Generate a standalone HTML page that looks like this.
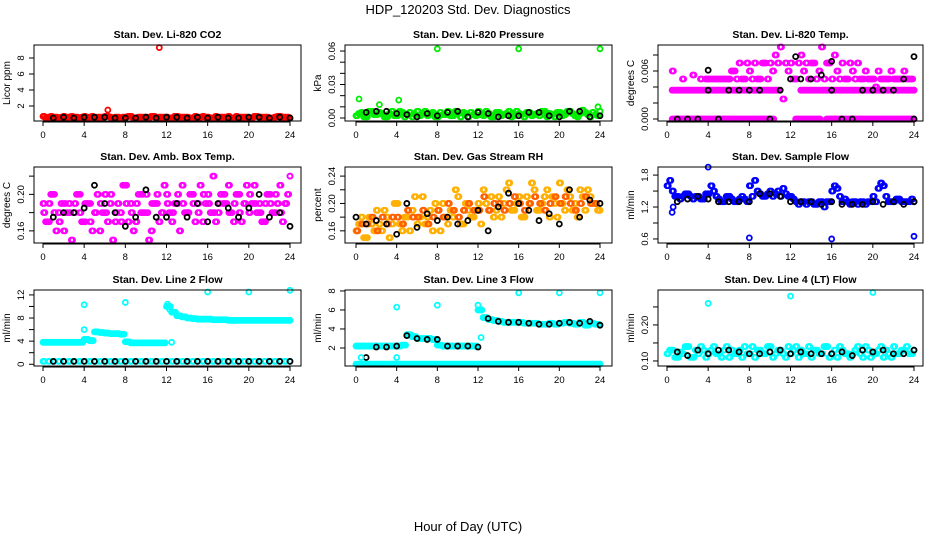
<!DOCTYPE html>
<html><head><meta charset="utf-8"><style>
html,body{margin:0;padding:0;background:#fff;}
svg{display:block;font-family:"Liberation Sans",Arial,sans-serif;}
</style></head><body>
<svg id="c" width="936" height="540" viewBox="0 0 936 540">
<text x="468" y="14" text-anchor="middle" font-size="13">HDP_120203  Std. Dev. Diagnostics</text>
<text x="468" y="531" text-anchor="middle" font-size="13">Hour of Day (UTC)</text>
</svg>
<script>
// ---- data ----
const xTicks=[0,4,8,12,16,20,24];
const co2A=[0.7,0.6,0.6,0.5,0.7,0.6,0.6,0.5,0.7,0.6,0.5,0.6,0.7,0.6,0.6,0.5,0.6,0.7,0.5,0.6,0.6,0.7,0.5,0.6,0.6,0.5,0.7,0.6,0.6,0.5,0.6,0.7,0.6,0.5,0.6,0.6,0.7,0.5,0.6,0.6,0.5,0.7,0.6,0.6,0.5,0.6,0.7,0.6,0.5];
const co2B=[0.5,0.7,0.6,0.6,0.5,0.7,0.6,0.6,0.5,0.7,0.6,0.6,0.7,0.5,0.6,0.6,0.7,0.5,0.6,0.6,0.5,0.7,0.6,0.6,0.5,0.7,0.6,0.6,0.5,0.7,0.6,0.6,0.5,0.7,0.6,0.6,0.5,0.7,0.6,0.6,0.5,0.7,0.6,0.6,0.5,0.7,0.6,0.6,0.5];
const co2Blk=[null,0.5,0.6,0.5,0.6,0.6,0.6,0.5,0.5,0.5,0.6,0.5,0.6,0.6,0.5,0.6,0.5,0.6,0.5,0.5,0.6,0.6,0.5,0.6,0.5];
const co2OutX=[6.3,11.3,0.1];
const co2OutY=[1.5,9.3,0.7];

const prA=[0.002,0.005,0.001,0.006,0.003,0.004,0.001,0.006,0.002,0.005,0.003,0.001,0.006,0.004,0.002,0.005,0.001,0.003,0.006,0.002,0.004,0.005,0.001,0.003,0.006,0.002,0.004,0.001,0.005,0.003,0.006,0.002,0.004,0.001,0.005,0.003,0.002,0.006,0.004,0.001,0.005,0.003,0.006,0.002,0.004,0.005,0.001,0.003,0.006];
const prB=[0.004,0.001,0.006,0.003,0.005,0.001,0.004,0.002,0.006,0.001,0.005,0.003,0.002,0.006,0.004,0.001,0.005,0.003,0.002,0.006,0.001,0.004,0.005,0.002,0.003,0.006,0.001,0.005,0.002,0.004,0.001,0.006,0.003,0.005,0.002,0.004,0.006,0.001,0.003,0.005,0.002,0.006,0.004,0.001,0.007,0.003,0.005,0.002,0.004];
const prBlk=[null,0.005,0.006,0.006,0.004,0.003,0.001,0.004,0.002,0.005,0.006,0.001,0.005,0.004,0.001,0.002,0.002,0.005,0.005,0.002,0.001,0.006,0.006,0.001,0.002];
const prOutX=[0.3,2.3,4.2,8,16,24,23.8];
const prOutY=[0.017,0.012,0.016,0.062,0.062,0.062,0.010];

const tLow=[null,0,0,0,0,0,0,0,0,0,0,0,0,0,0,0,0,0,0,0,0,null,null,null,null,0,0,0,0,0,null,0,0,0,0,0,0,0,0,0,0,0,0,0,0,0,0,0,0];
const tMid=[null,0.0036,0.0036,0.0036,0.0036,0.0036,0.0036,0.0036,0.0036,0.0036,0.0036,0.0036,0.0036,0.0036,0.0036,0.0036,0.0036,0.0036,0.0036,0.0036,0.0036,0.0036,null,null,null,null,0.0036,0.0036,0.0036,0.0036,0.0036,0.0036,0.0036,0.0036,0.0036,0.0036,0.0036,0.0036,0.0036,0.0036,0.0036,0.0036,0.0036,0.0036,0.0036,0.0036,0.0036,0.0036,0.0036];
const tHigh=[null,0.006,null,0.005,null,0.0055,null,null,0.005,0.005,0.005,0.005,0.005,0.006,0.007,0.005,0.006,0.007,0.005,0.007,0.007,0.008,0.009,0.007,0.007,0.005,0.008,0.007,0.007,0.005,0.009,0.007,0.005,0.006,0.007,0.005,0.006,0.007,0.005,0.005,0.005,0.006,0.005,0.005,0.005,0.005,0.006,0.005,null];
const tHigh2=[null,null,null,null,null,null,0.005,0.005,0.005,0.005,0.005,0.005,0.006,0.005,0.005,0.007,0.005,0.005,0.007,0.005,0.006,0.007,0.0025,0.006,0.005,0.007,0.006,0.005,0.007,0.006,0.005,0.007,0.008,0.005,0.005,0.007,0.005,0.005,0.006,0.005,0.004,0.005,0.005,0.006,0.005,0.005,0.005,0.005,null];
const tBlk=[null,0,0,0,0.0036,0,0.0036,0.0036,0.0036,0.0036,0,0.0036,0.005,0.005,0.005,0.0055,0.0036,0,0,0.0036,0.0036,0.0036,0.0036,0.005,0];
const tOutX=[24,12.5,16,4];
const tOutY=[0.0078,0.0078,0.0072,0.0061];

const aA=[0.19,0.17,0.20,0.18,0.16,0.19,0.18,0.20,0.17,0.19,0.18,0.16,0.20,0.19,0.17,0.18,0.21,0.19,0.17,0.18,0.20,0.16,0.19,0.18,0.20,0.17,0.19,0.21,0.18,0.20,0.19,0.17,0.20,0.22,0.18,0.19,0.21,0.17,0.20,0.19,0.18,0.21,0.19,0.17,0.20,0.18,0.21,0.19,0.22];
const aB=[0.17,0.20,0.16,0.19,0.18,0.15,0.20,0.17,0.19,0.16,0.20,0.18,0.17,0.15,0.19,0.21,0.17,0.16,0.20,0.18,0.15,0.19,0.17,0.21,0.18,0.19,0.16,0.18,0.20,0.17,0.21,0.19,0.18,0.17,0.20,0.19,0.18,0.20,0.17,0.21,0.19,0.18,0.17,0.20,0.18,0.19,0.17,0.20,0.18];
const aC=[0.18,0.19,0.18,0.17,0.19,0.18,0.19,0.18,0.19,0.17,0.18,0.19,0.18,0.20,0.18,0.17,0.19,0.18,0.19,0.20,0.18,0.19,0.20,0.18,0.19,0.18,0.20,0.19,0.18,0.19,0.18,0.20,0.19,0.18,0.19,0.20,0.18,0.19,0.18,0.19,0.20,0.19,0.18,0.19,0.19,0.20,0.18,0.19,0.18];
const aBlk=[null,0.175,0.18,0.18,0.185,0.21,0.19,0.18,0.165,0.175,0.205,0.175,0.175,0.19,0.175,0.19,0.17,0.19,0.185,0.175,0.185,0.2,0.175,0.18,0.165];

const rA=[0.16,0.18,0.15,0.17,0.19,0.16,0.18,0.17,0.20,0.16,0.18,0.19,0.17,0.21,0.18,0.16,0.19,0.20,0.17,0.18,0.21,0.17,0.19,0.18,0.20,0.22,0.19,0.18,0.21,0.20,0.23,0.19,0.21,0.18,0.20,0.22,0.19,0.21,0.18,0.20,0.23,0.19,0.21,0.20,0.22,0.19,0.21,0.20,0.19];
const rB=[0.17,0.15,0.18,0.16,0.17,0.19,0.15,0.20,0.17,0.18,0.16,0.21,0.18,0.17,0.19,0.20,0.16,0.18,0.19,0.22,0.17,0.20,0.18,0.19,0.17,0.20,0.21,0.19,0.18,0.22,0.19,0.20,0.18,0.21,0.23,0.19,0.20,0.22,0.21,0.18,0.20,0.22,0.19,0.18,0.21,0.22,0.20,0.19,0.21];
const rC=[0.16,0.17,0.17,0.18,0.16,0.18,0.17,0.18,0.18,0.17,0.19,0.18,0.18,0.19,0.17,0.18,0.19,0.18,0.20,0.19,0.18,0.19,0.20,0.19,0.19,0.21,0.19,0.20,0.20,0.19,0.20,0.21,0.20,0.19,0.20,0.21,0.20,0.19,0.20,0.21,0.20,0.21,0.20,0.19,0.20,0.21,0.20,0.20,0.20];
const rBlk=[0.18,0.17,0.175,0.17,0.155,0.2,0.165,0.185,0.175,0.18,0.17,0.175,0.19,0.16,0.195,0.215,0.2,0.19,0.175,0.185,0.17,0.22,0.18,0.205,0.2];

const fA=[1.6,1.5,1.4,1.4,1.45,1.35,1.4,1.35,1.45,1.5,1.35,1.3,1.4,1.3,1.35,1.35,1.6,1.7,1.45,1.4,1.5,1.45,1.4,1.45,1.4,1.3,1.3,1.25,1.3,1.25,1.3,1.3,1.5,1.55,1.3,1.3,1.3,1.25,1.3,1.3,1.4,1.55,1.6,1.3,1.3,1.35,1.3,1.3,1.3];
const fB=[1.7,1.4,1.35,1.45,1.4,1.4,1.35,1.45,1.6,1.4,1.3,1.4,1.35,1.3,1.4,1.3,1.4,1.5,1.4,1.45,1.4,1.5,1.55,1.4,1.35,1.25,1.3,1.3,1.25,1.3,1.2,1.3,1.6,1.4,1.35,1.25,1.3,1.3,1.25,1.3,1.3,1.65,1.4,1.3,1.35,1.3,1.3,1.35,1.3];
const fBlk=[null,1.3,1.35,1.4,1.35,1.3,1.3,1.3,1.3,1.45,1.45,1.4,1.3,1.3,1.3,1.25,1.3,1.25,1.25,1.25,1.3,1.25,1.3,1.25,1.3];
const fOutX=[4,8,16,24,0.5,0.6];
const fOutY=[1.95,0.62,0.6,0.65,1.1,1.2];

const l2A=[3.8,3.8,3.8,3.8,3.8,3.8,3.8,3.8,4.3,4.1,5.6,5.5,5.4,5.3,5.3,5.2,3.9,3.7,3.7,3.7,3.7,3.7,3.7,3.7,10,9,8.4,8.2,8.0,7.9,7.8,7.8,7.8,7.7,7.7,7.7,7.6,7.6,7.6,7.6,7.6,7.6,7.6,7.6,7.6,7.6,7.6,7.6,7.6];
const l2Low=[0.5,0.5,0.5,0.5,0.5,0.5,0.5,0.5,0.5,0.5,0.5,0.5,0.5,0.5,0.5,0.5,0.5,0.5,0.5,0.5,0.5,0.5,0.5,0.5,0.5,0.5,0.5,0.5,0.5,0.5,0.5,0.5,0.5,0.5,0.5,0.5,0.5,0.5,0.5,0.5,0.5,0.5,0.5,0.5,0.5,0.5,0.5,0.5,0.5];
const l2Blk=[null,0.5,0.5,0.5,0.5,0.5,0.5,0.5,0.5,0.5,0.5,0.5,0.5,0.5,0.5,0.5,0.5,0.5,0.5,0.5,0.5,0.5,0.5,0.5,0.5];
const l2OutX=[4,4,8,16,20,24,12.5,12.1,12.3];
const l2OutY=[10.3,6,10.7,12.5,12.5,12.8,3.8,10.4,9.5];

const l3A=[2.2,2.2,2.2,2.2,2.2,2.2,2.2,2.2,2.2,2.3,3.4,3.2,3.0,3.0,3.0,2.9,2.3,2.2,2.2,2.2,2.2,2.2,2.2,2.2,6.0,5.2,5.0,4.9,4.8,4.7,4.7,4.7,4.7,4.6,4.6,4.6,4.5,4.5,4.6,4.5,4.6,4.7,4.6,4.5,4.7,4.4,4.6,4.5,4.4];
const l3Low=[0.3,0.3,0.3,0.3,0.3,0.3,0.3,0.3,0.3,0.3,0.3,0.3,0.3,0.3,0.3,0.3,0.3,0.3,0.3,0.3,0.3,0.3,0.3,0.3,0.3,0.3,0.3,0.3,0.3,0.3,0.3,0.3,0.3,0.3,0.3,0.3,0.3,0.3,0.3,0.3,0.3,0.3,0.3,0.3,0.3,0.3,0.3,0.3,0.3];
const l3Blk=[null,1.0,2.1,2.1,2.2,3.3,3.0,2.9,2.9,2.2,2.2,2.2,2.1,5.1,4.8,4.7,4.7,4.6,4.5,4.5,4.6,4.7,4.6,4.8,4.4];
const l3OutX=[4,8,12,16,20,24,4,12.3,0.5,0.3];
const l3OutY=[6.3,6.5,6.5,7.8,7.8,7.8,1.0,3.1,1.0,2.2];

const l4A=[0.12,0.13,0.11,0.12,0.14,0.11,0.12,0.13,0.12,0.14,0.12,0.13,0.11,0.12,0.13,0.14,0.12,0.11,0.13,0.12,0.14,0.12,0.13,0.11,0.12,0.14,0.13,0.12,0.11,0.13,0.12,0.14,0.12,0.11,0.13,0.12,0.12,0.14,0.11,0.13,0.12,0.13,0.11,0.12,0.14,0.12,0.13,0.12,0.13];
const l4B=[0.13,0.11,0.125,0.14,0.11,0.13,0.14,0.11,0.13,0.12,0.11,0.14,0.13,0.12,0.11,0.12,0.14,0.13,0.12,0.14,0.11,0.13,0.12,0.14,0.13,0.11,0.12,0.14,0.13,0.12,0.14,0.11,0.13,0.14,0.12,0.11,0.13,0.12,0.14,0.11,0.12,0.14,0.13,0.11,0.12,0.13,0.14,0.12,0.11];
const l4Blk=[null,0.125,0.115,0.13,0.12,0.13,0.13,0.125,0.12,0.12,0.125,0.13,0.12,0.125,0.12,0.12,0.12,0.125,0.115,0.13,0.125,0.13,0.12,0.12,0.13];
const l4OutX=[4,12,20];
const l4OutY=[0.26,0.28,0.29];

const svg=document.getElementById('c');
const NS='http://www.w3.org/2000/svg';
function mk(t,a,p){const e=document.createElementNS(NS,t);for(const k in a)e.setAttribute(k,a[k]);(p||svg).appendChild(e);return e;}

const cols=[{l:34,r:301,x0:43,x24:290},{l:345,r:612,x0:356,x24:600},{l:658,r:923,x0:667,x24:914}];
const rows=[{t:45,b:121},{t:167,b:243},{t:290,b:366}];

function panel(o){
  const c=cols[o.col],rw=rows[o.row];
  const g=mk('g',{});
  
  
  const X=v=>c.x0+(c.x24-c.x0)*v/24;
  const Y=v=>rw.b-(v-o.lo)/(o.hi-o.lo)*(rw.b-rw.t);
  const t=mk('text',{x:(c.l+c.r)/2,y:rw.t-7,'text-anchor':'middle','font-size':10.5,'font-weight':'bold'},g);
  t.textContent=o.title;
  
  
  const pts=mk('g',{fill:'none','stroke-width':1.8},g);
  
  
  function dot(x,y,col){if(y===null||y===undefined)return;const cy=Y(y);const e=mk('circle',{cx:X(x),cy:cy,r:2.5,stroke:col},pts);
    
    }
  o.series.forEach(s=>{
    const n=s.v.length;
    const offs=s.col===BK?[0]:[0,0.125];
    offs.forEach(d=>{s.v.forEach((v,i)=>{if(i===n-1&&(s.off||d))return;dot(i*24/(n-1)+(s.off||0)+d,v,s.col);});});
    if(s.col!==BK&&!s.off) dot(24,s.v[n-1],s.col);
  });
  (o.outs||[]).forEach(s=>{s.x.forEach((x,i)=>dot(x,s.y[i],s.col));});
  const bx=mk('rect',{x:c.l,y:rw.t,width:c.r-c.l,height:rw.b-rw.t,fill:'none',stroke:'#000','stroke-width':1},g);
  
  
  mk('line',{x1:X(0),x2:X(24),y1:rw.b+1,y2:rw.b+1,stroke:'#000'},g);
  xTicks.forEach(v=>{mk('line',{x1:X(v),x2:X(v),y1:rw.b,y2:rw.b+5,stroke:'#000'},g);
    const tl=mk('text',{x:X(v),y:rw.b+17,'text-anchor':'middle','font-size':9.5},g);tl.textContent=v;
    
    });
  o.ticks.forEach(v=>{mk('line',{x1:c.l-5,x2:c.l,y1:Y(v),y2:Y(v),stroke:'#000'},g);});
  o.labels.forEach(v=>{const yy=Y(+v);const tl=mk('text',{x:c.l-10,y:yy,'text-anchor':'middle','font-size':9.5,transform:`rotate(-90 ${c.l-10} ${yy})`},g);tl.textContent=v;
    
    });
  const cy=(rw.t+rw.b)/2;
  const yl=mk('text',{x:c.l-24,y:cy,'text-anchor':'middle','font-size':10,transform:`rotate(-90 ${c.l-24} ${cy})`},g);
  yl.textContent=o.ylab;
  
  
}
const RED='#ff0000',GRN='#00ee00',MAG='#ff00ff',ORG='#ffb000',BLU='#0000ff',CY='#00ffff',BK='#000';
panel({name:'panel-co2',col:0,row:0,title:'Stan. Dev. Li-820 CO2',ylab:'Licor ppm',lo:0.125,hi:9.625,ticks:[2,4,6,8],labels:['2','4','6','8'],
  series:[{v:co2A,col:RED},{v:co2B,col:RED,off:0.25},{v:co2Blk,col:BK}],outs:[{x:co2OutX,y:co2OutY,col:RED}]});
panel({name:'panel-pressure',col:1,row:0,title:'Stan. Dev. Li-820 Pressure',ylab:'kPa',lo:-0.0027,hi:0.0654,ticks:[0,0.01,0.02,0.03,0.04,0.05,0.06],labels:['0.00','0.03','0.06'],
  series:[{v:prA,col:GRN},{v:prB,col:GRN,off:0.25},{v:prBlk,col:BK}],outs:[{x:prOutX,y:prOutY,col:GRN}]});
panel({name:'panel-temp',col:2,row:0,title:'Stan. Dev. Li-820 Temp.',ylab:'degrees C',lo:-0.00025,hi:0.00925,ticks:[0,0.002,0.004,0.006,0.008],labels:['0.000','0.006'],
  series:[{v:tLow,col:MAG},{v:tLow,col:MAG,off:0.25},{v:tMid,col:MAG},{v:tMid,col:MAG,off:0.25},{v:tHigh,col:MAG},{v:tHigh2,col:MAG,off:0.25},{v:tBlk,col:BK}],outs:[{x:tOutX,y:tOutY,col:BK}]});
panel({name:'panel-amb-box-temp',col:0,row:1,title:'Stan. Dev. Amb. Box Temp.',ylab:'degrees C',lo:0.1467,hi:0.23,ticks:[0.16,0.18,0.2,0.22],labels:['0.16','0.20'],
  series:[{v:aA,col:MAG},{v:aB,col:MAG,off:0.25},{v:aC,col:MAG,off:0.06},{v:aBlk,col:BK}]});
panel({name:'panel-gas-rh',col:1,row:1,title:'Stan. Dev. Gas Stream RH',ylab:'percent',lo:0.1422,hi:0.2533,ticks:[0.16,0.18,0.2,0.22,0.24],labels:['0.16','0.20','0.24'],
  series:[{v:rA,col:ORG},{v:rB,col:ORG,off:0.25},{v:rC,col:'#ff6000',off:0.06},{v:rBlk,col:BK}]});
panel({name:'panel-sample-flow',col:2,row:1,title:'Stan. Dev. Sample Flow',ylab:'ml/min',lo:0.524,hi:1.952,ticks:[0.6,0.9,1.2,1.5,1.8],labels:['0.6','1.2','1.8'],
  series:[{v:fA,col:BLU},{v:fB,col:BLU,off:0.25},{v:fBlk,col:BK}],outs:[{x:fOutX,y:fOutY,col:BLU}]});
panel({name:'panel-line2-flow',col:0,row:2,title:'Stan. Dev. Line 2 Flow',ylab:'ml/min',lo:-0.3,hi:12.85,ticks:[0,2,4,6,8,10,12],labels:['0','4','8','12'],
  series:[{v:l2A,col:CY},{v:l2A,col:CY,off:0.25},{v:l2Low,col:CY},{v:l2Blk,col:BK}],outs:[{x:l2OutX,y:l2OutY,col:CY}]});
panel({name:'panel-line3-flow',col:1,row:2,title:'Stan. Dev. Line 3 Flow',ylab:'ml/min',lo:0.105,hi:8.1,ticks:[2,4,6,8],labels:['2','4','6','8'],
  series:[{v:l3A,col:CY},{v:l3A,col:CY,off:0.25},{v:l3Low,col:CY},{v:l3Low,col:CY,off:0.25},{v:l3Blk,col:BK}],outs:[{x:l3OutX,y:l3OutY,col:CY}]});
panel({name:'panel-line4-flow',col:2,row:2,title:'Stan. Dev. Line 4 (LT) Flow',ylab:'ml/min',lo:0.086,hi:0.297,ticks:[0.1,0.15,0.2,0.25],labels:['0.10','0.20'],
  series:[{v:l4A,col:CY},{v:l4B,col:CY,off:0.25},{v:l4Blk,col:BK}],outs:[{x:l4OutX,y:l4OutY,col:CY}]});
</script>
</body></html>
